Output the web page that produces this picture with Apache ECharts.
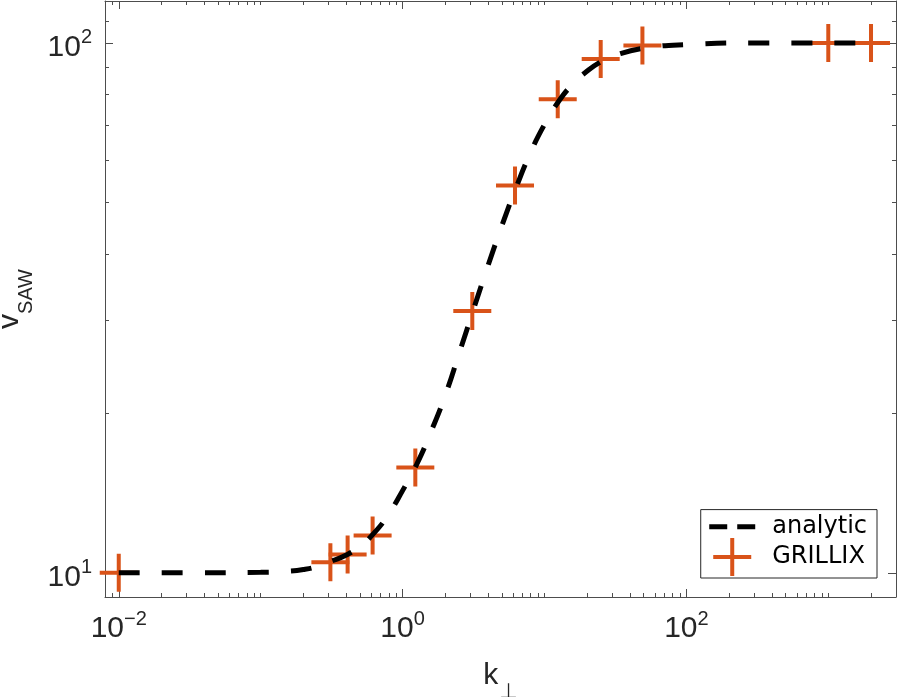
<!DOCTYPE html>
<html><head><meta charset="utf-8">
<script src="https://cdn.jsdelivr.net/npm/echarts@6/dist/echarts.min.js"></script>
<style>html,body{margin:0;padding:0;background:#fff}#c{width:897px;height:697px}</style>
</head><body><div id="c"></div>
<script>
// analytic curve
const analyticK = [0.01, 0.0316, 0.1, 0.158, 0.2, 0.251, 0.316, 0.398, 0.501, 0.631, 0.794, 1, 1.26, 1.58, 2.0, 2.51, 3.16, 3.98, 5.01, 6.31, 7.94, 10, 12.6, 15.8, 20, 25.1, 31.6, 50.1, 100, 316, 2000];
const analyticV = [10.0, 10.0, 10.02, 10.07, 10.14, 10.28, 10.52, 10.79, 11.22, 11.89, 12.88, 14.29, 16.03, 18.41, 21.63, 26.0, 31.41, 37.84, 45.19, 53.33, 61.94, 70.15, 77.62, 83.56, 88.51, 92.26, 94.84, 97.72, 99.31, 100, 100];
// GRILLIX points
const grillixK = [0.01, 0.31, 0.41, 0.615, 1.23, 3.1, 6.2, 12.4, 24.9, 49, 1000, 2000];
const grillixV = [10, 10.47, 10.83, 11.76, 15.8, 31.2, 53.8, 78.3, 93.3, 98.9, 100, 100];
// ticks
const xMajorTicks = [0.01, 1, 100];
const xMinorTicks = [0.009, 0.02, 0.03, 0.04, 0.05, 0.06, 0.07, 0.08, 0.09, 0.1, 0.2, 0.3, 0.4, 0.5, 0.6, 0.7, 0.8, 0.9, 2, 3, 4, 5, 6, 7, 8, 9, 10, 20, 30, 40, 50, 60, 70, 80, 90, 200, 300, 400, 500, 600, 700, 800, 900, 1000, 2000];
const yMajorTicks = [10, 100];
const yMinorTicks = [20, 30, 40, 50, 60, 70, 80, 90, 110];
const xRange = [0.008, 3000];
const yRange = [9, 120];

const AX = '#4d4d4d';
const tickFont = "'Liberation Sans', 'DejaVu Sans', sans-serif";
const labelRich = {
  b: {fontSize: 30, lineHeight: 30, fontFamily: tickFont, color: '#262626', padding: [10, 0, 0, 0]},
  s: {fontSize: 20, lineHeight: 20, fontFamily: tickFont, color: '#262626', padding: [0, 0, 10, 0]}
};
function powFmt(v) {
  const e = Math.round(Math.log10(v));
  return '{b|10}{s|' + (e < 0 ? '\u2212' + (-e) : e) + '}';
}
function axis(kind, pos, ticks, len, opts) {
  const r = kind === 'x' ? xRange : yRange;
  return Object.assign({
    type: 'log', min: r[0], max: r[1], position: pos,
    axisLine: {show: false},
    axisTick: {show: true, inside: true, length: len, customValues: ticks, lineStyle: {color: AX, width: 1}},
    axisLabel: {show: false},
    splitLine: {show: false},
    minorTick: {show: false}
  }, opts || {});
}
const lineOn = {axisLine: {show: true, lineStyle: {color: AX, width: 1}}};

const option = {
  animation: false,
  grid: {left: 105, right: 1, top: 1, bottom: 100, containLabel: false, outerBoundsMode: 'none'},
  xAxis: [
    axis('x', 'bottom', xMajorTicks, 8, Object.assign({}, lineOn, {
      axisLabel: {show: true, customValues: xMajorTicks, formatter: powFmt, rich: labelRich, margin: 12},
      name: '{b|k}{s|\u22A5}', nameLocation: 'middle', nameGap: 40,
      nameTextStyle: {rich: {
        b: {fontSize: 30, lineHeight: 30, fontFamily: tickFont, color: '#262626'},
        s: {fontSize: 21, lineHeight: 21, fontFamily: "'DejaVu Sans', sans-serif", color: '#262626', padding: [33, 0, 0, 1]}
      }}
    })),
    axis('x', 'bottom', xMinorTicks, 4),
    axis('x', 'top', xMajorTicks, 8, lineOn),
    axis('x', 'top', xMinorTicks, 4)
  ],
  yAxis: [
    axis('y', 'left', yMajorTicks, 8, Object.assign({}, lineOn, {
      axisLabel: {show: true, customValues: yMajorTicks, formatter: powFmt, rich: labelRich, margin: 13},
      name: '{b|v}{s|SAW}', nameLocation: 'middle', nameRotate: 90, nameGap: 63,
      nameTextStyle: {rich: {
        b: {fontSize: 30, lineHeight: 30, fontFamily: tickFont, color: '#262626'},
        s: {fontSize: 20, lineHeight: 20, fontFamily: tickFont, color: '#262626', padding: [33, 0, 0, 0]}
      }}
    })),
    axis('y', 'left', yMinorTicks, 4),
    axis('y', 'right', yMajorTicks, 8, lineOn),
    axis('y', 'right', yMinorTicks, 4)
  ],
  legend: {
    orient: 'vertical', right: 20, bottom: 119,
    backgroundColor: '#fff', borderColor: '#262626', borderWidth: 1, borderRadius: 0,
    padding: [2, 10, 2, 6], itemGap: -4, itemWidth: 46, itemHeight: 38,
    textStyle: {fontSize: 24, fontFamily: "'DejaVu Sans', sans-serif", color: '#000', padding: [0, 0, 0, 12]},
    data: [
      {name: 'analytic', itemStyle: {color: 'rgba(0,0,0,0)', borderWidth: 0, opacity: 0},
       lineStyle: {width: 5, type: [18, 10], color: '#000', opacity: 1}},
      {name: 'GRILLIX'}
    ]
  },
  series: [
    {
      name: 'analytic', type: 'line', xAxisIndex: 0, yAxisIndex: 0,
      data: analyticK.map((k, i) => [k, analyticV[i]]),
      showSymbol: false, symbol: 'none', smooth: 0.5,
      lineStyle: {color: '#000', width: 5, type: [21, 22], cap: 'butt'},
      itemStyle: {color: '#000'}
    },
    {
      name: 'GRILLIX', type: 'scatter', xAxisIndex: 0, yAxisIndex: 0,
      data: grillixK.map((k, i) => [k, grillixV[i]]),
      symbol: 'path://M0,17H17V0H21V17H38V21H21V38H17V21H0Z', symbolSize: 38,
      itemStyle: {color: '#D95319', opacity: 1}
    }
  ]
};
const chart = echarts.init(document.getElementById('c'), null, {renderer: 'canvas'});
chart.setOption(option);
</script>
</body></html>
